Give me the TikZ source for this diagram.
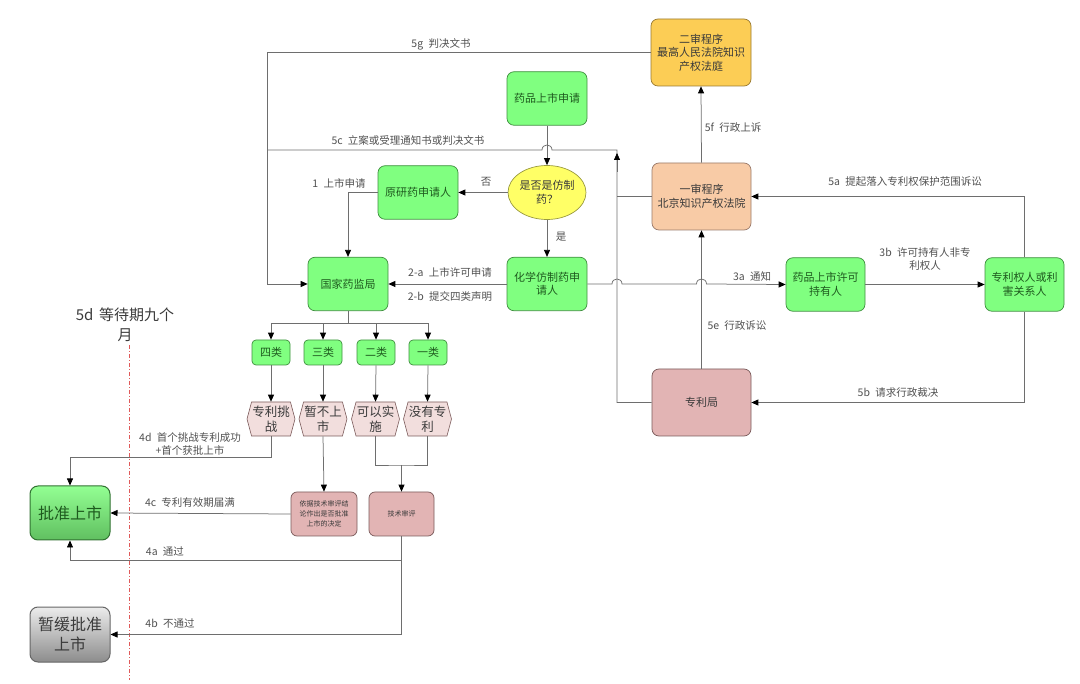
\documentclass[tikz,border=0pt]{standalone}
\usepackage{fontspec}
\setmainfont{Noto Sans CJK SC}
\usetikzlibrary{arrows.meta,shapes.geometric,shapes.symbols,calc}
\definecolor{lc}{HTML}{6E6E6E}
\definecolor{lbl}{HTML}{505050}
\definecolor{gfill}{HTML}{80FF80}
\definecolor{gdraw}{HTML}{3F8F3F}
\definecolor{gtext}{HTML}{1E5A1E}
\definecolor{yfill}{HTML}{FFFF66}
\definecolor{ydraw}{HTML}{9A9A40}
\definecolor{ofill}{HTML}{FCCD55}
\definecolor{odraw}{HTML}{9A7A30}
\definecolor{pfill}{HTML}{F8CBA6}
\definecolor{pdraw}{HTML}{9A7A6A}
\definecolor{rfill}{HTML}{E2B4B4}
\definecolor{rdraw}{HTML}{7A5A5A}
\definecolor{hfill}{HTML}{F2DEDD}
\definecolor{dtext}{HTML}{3A3A3A}
\definecolor{redl}{HTML}{E05A5A}
\begin{document}
\begin{tikzpicture}[x=1pt,y=-1pt,
  box/.style={rectangle, rounded corners=7pt, line width=0.7pt, inner sep=1pt, align=center,
     font=\fontsize{11}{13.5}\selectfont},
  gbox/.style={box, fill=gfill, draw=gdraw, text=gtext, minimum width=80pt, minimum height=53.5pt},
  cls/.style={box, rounded corners=4pt, fill=gfill, draw=gdraw, text=gtext, minimum width=38pt, minimum height=25pt},
  hexn/.style={signal, signal to=west and east, signal pointer angle=150, fill=hfill, draw=rdraw,
     line width=0.6pt, inner sep=0pt, minimum width=48pt, minimum height=34pt, align=center,
     text=dtext, font=\fontsize{12.5}{15}\selectfont},
  ln/.style={draw=lc, line width=0.75pt},
  ar/.style={ln, -{Triangle[length=7pt,width=6pt,color=black]}},
  lab/.style={text=lbl, font=\fontsize{10.5}{13}\selectfont, inner sep=1pt, align=center}
]
\useasboundingbox (0,0) rectangle (1080,684);

% ---------- nodes ----------
\node[box, fill=ofill, draw=odraw, text=dtext, minimum width=100pt, minimum height=67pt] (ershen) at (701,52.5) {二审程序\\最高人民法院知识\\产权法庭};
\node[gbox] (shenqing) at (547,98.5) {药品上市申请};
\node[ellipse, fill=yfill, draw=ydraw, line width=0.7pt, minimum width=78pt, minimum height=54pt, inner sep=0pt,
   align=center, text=dtext, font=\fontsize{11}{13.5}\selectfont] (fang) at (547,192.5) {是否是仿制\\药？};
\node[gbox] (yuanyan) at (418,192.5) {原研药申请人};
\node[box, fill=pfill, draw=pdraw, text=dtext, minimum width=99pt, minimum height=67pt] (yishen) at (701.5,196.5) {一审程序\\北京知识产权法院};
\node[gbox] (nmpa) at (348,284) {国家药监局};
\node[gbox] (huaxue) at (547,284) {化学仿制药申\\请人};
\node[gbox, minimum width=79pt] (chiyou) at (825.5,284.5) {药品上市许可\\持有人};
\node[gbox, minimum width=79pt] (zlq) at (1024.5,284.5) {专利权人或利\\害关系人};
\node[box, fill=rfill, draw=rdraw, text=dtext, minimum width=99pt, minimum height=67pt] (ju) at (701.5,402.5) {专利局};

\node[cls] (c4) at (271,352.5) {四类};
\node[cls] (c3) at (323,352.5) {三类};
\node[cls] (c2) at (376,352.5) {二类};
\node[cls] (c1) at (428,352.5) {一类};

\node[hexn] (h4) at (271,419) {专利挑\\战};
\node[hexn] (h3) at (323,419) {暂不上\\市};
\node[hexn] (h2) at (375.5,419) {可以实\\施};
\node[hexn] (h1) at (427.5,419) {没有专\\利};

\node[box, rounded corners=6pt, fill=rfill, draw=rdraw, text=dtext, minimum width=66pt, minimum height=44pt,
   font=\fontsize{7}{10}\selectfont] (yiju) at (324,514) {依据技术审评结\\论作出是否批准\\上市的决定};
\node[box, rounded corners=6pt, fill=rfill, draw=rdraw, text=dtext, minimum width=65pt, minimum height=44pt,
   font=\fontsize{7}{10}\selectfont] (jishu) at (401.5,514) {技术审评};

\node[box, rounded corners=8pt, top color=gfill!85!white, bottom color=gfill!75!black, draw=gdraw!80!black,
   line width=1pt, text=gtext, minimum width=80pt, minimum height=54pt,
   font=\fontsize{16}{20}\selectfont] (pizhun) at (70,513) {批准上市};
\node[box, rounded corners=8pt, top color=white!85!gray, bottom color=gray!90!white, draw=black!60,
   line width=1pt, text=dtext, minimum width=80pt, minimum height=55pt,
   font=\fontsize{16}{20}\selectfont] (zanhuan) at (70,634.5) {暂缓批准\\上市};

\node[text=dtext, font=\fontsize{15}{20}\selectfont, align=center, inner sep=0pt] (wait) at (125,325) {5d\, 等待期九个\\月};
\coordinate (rtop) at (129,345);
\coordinate (rbot) at (129,680);
\draw[redl, line width=0.6pt, dash pattern=on 4pt off 2pt on 1pt off 2pt] (rtop) -- (rbot);

% ---------- connectors ----------
\draw[ar] (ershen.west) -| ($(nmpa.west)+(-40,0)$) -- (nmpa.west);
\node[lab] (l5g) at (441,44) {5g\; 判决文书};

\coordinate (j1) at (617,402.5);
\coordinate (j2) at (617,150);
\draw[ln] (ju.west) -- (j1) -- (j2) -- (552,150) .. controls (552,143.3) and (542,143.3) .. (542,150) -- (268,150);
\draw[ln] (yishen.west) -- (617,196.5);
\draw[ar] (617,172) -- (617,153);
\node[lab] (l5c) at (408,141) {5c\; 立案或受理通知书或判决文书};

\draw[ar] (shenqing.south) -- (fang.north);
\draw[ar] (fang.west) -- (yuanyan.east);
\node[lab] (lno) at (486,182) {否};
\draw[ar] (fang.south) -- (huaxue.north);
\node[lab] (lyes) at (561,237) {是};
\draw[ar] (yuanyan.west) -| (nmpa.north);
\node[lab] (l1) at (339,183) {1\; 上市申请};
\draw[ar] (huaxue.west) -- (nmpa.east);
\node[lab] (l2a) at (450,272) {2-a\; 上市许可申请};
\node[lab] (l2b) at (450,297) {2-b\; 提交四类声明};

\draw[ar] (huaxue.east) -- (612,284) .. controls (612,277.3) and (622,277.3) .. (622,284)
   -- (696.5,284) .. controls (696.5,277.3) and (706.5,277.3) .. (706.5,284) -- (chiyou.west);
\node[lab] (l3a) at (752,276) {3a\; 通知};
\draw[ar] (chiyou.east) -- (zlq.west);
\node[lab] (l3b) at (925,259) {3b\; 许可持有人非专\\利权人};
\draw[ar] (zlq.north) |- (yishen.east);
\node[lab] (l5a) at (905,182) {5a\; 提起落入专利权保护范围诉讼};
\draw[ar] (zlq.south) |- (ju.east);
\node[lab] (l5b) at (898,393) {5b\; 请求行政裁决};
\draw[ar] (ju.north) -- (yishen.south);
\node[lab] (l5e) at (737,326) {5e\; 行政诉讼};
\draw[ar] (yishen.north) -- (ershen.south);
\node[lab] (l5f) at (733,128) {5f\; 行政上诉};

\foreach \c in {c4,c3,c2,c1}{
  \draw[ar] (nmpa.south) -- ++(0,12) -| (\c.north);
}
\draw[ar] (c4.south) -- (h4.north);
\draw[ar] (c3.south) -- (h3.north);
\draw[ar] (c2.south) -- (h2.north);
\draw[ar] (c1.south) -- (h1.north);

\draw[ar] (h4.south) -- ++(0,21) -| (pizhun.north);
\node[lab] (l4d) at (190,444) {4d\; 首个挑战专利成功\\+首个获批上市};
\draw[ar] (h3.south) -- (yiju.north);
\coordinate (jn) at (401.5,465);
\draw[ln] (h2.south) |- (jn) -| (h1.south);
\draw[ar] (jn) -- (jishu.north);

\draw[ar] (yiju.west) -- (pizhun.east);
\node[lab] (l4c) at (190,503) {4c\; 专利有效期届满};
\draw[ar] (jishu.south) -- ++(0,24) -| (pizhun.south);
\node[lab] (l4a) at (165,551) {4a\; 通过};
\draw[ar] (jishu.south) |- (zanhuan.east);
\node[lab] (l4b) at (170,624) {4b\; 不通过};
\end{tikzpicture}
\end{document}
